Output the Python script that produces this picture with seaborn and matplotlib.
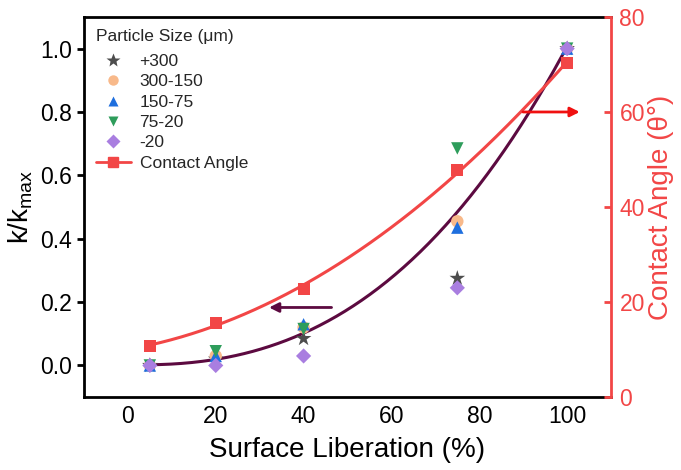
import numpy as np
import pandas as pd
import matplotlib
matplotlib.use("Agg")
import matplotlib.pyplot as plt
import seaborn as sns
from matplotlib.lines import Line2D

sns.set_theme(style="white")
plt.rcParams['font.family'] = ['Liberation Sans', 'DejaVu Sans']
plt.rcParams['mathtext.fontset'] = 'custom'
plt.rcParams['mathtext.rm'] = 'Liberation Sans'
plt.rcParams['mathtext.it'] = 'Liberation Sans'

# ---- data ----
liberation = [5, 20, 40, 75, 100]
size_labels = ["+300", "300-150", "150-75", "75-20", "-20"]
k_p300 = [0.0, 0.02, 0.085, 0.275, 1.0]
k_300_150 = [0.0, 0.03, 0.12, 0.455, 1.0]
k_150_75 = [0.0, 0.03, 0.13, 0.435, 1.0]
k_75_20 = [0.0, 0.045, 0.115, 0.685, 1.0]
k_m20 = [0.0, 0.0, 0.03, 0.245, 1.0]
contact_angle = [10.8, 15.7, 22.8, 47.7, 70.4]
# fitted k curve
fit_x = [5, 20, 40, 60, 75, 90, 100]
fit_k = [0.0, 0.022, 0.109, 0.26, 0.49, 0.78, 1.0]

colors = ["#4d4d4d", "#f8b98a", "#1f6fde", "#2e9d5b", "#a97ee0"]
markers = ["*", "o", "^", "v", "D"]
sizes = [140, 80, 80, 80, 60]
red = "#f24646"
dark = "#5c0a40"

rows = []
for lab, vals in zip(size_labels, [k_p300, k_300_150, k_150_75, k_75_20, k_m20]):
    for x, v in zip(liberation, vals):
        rows.append({"lib": x, "k": v, "size": lab})
df = pd.DataFrame(rows)

fig = plt.figure(figsize=(6.81, 4.70), dpi=100)
ax = fig.add_axes([0.1233, 0.155, 0.774, 0.809])
ax2 = ax.twinx()

# fitted curves
xs = np.linspace(5, 100, 200)
ck = np.polyfit(fit_x, fit_k, 3)
ax.plot(xs, np.polyval(ck, xs), color=dark, lw=2.2, zorder=2)

for lab, col, mk, s in zip(size_labels, colors, markers, sizes):
    sub = df[df["size"] == lab]
    sns.scatterplot(data=sub, x="lib", y="k", ax=ax, color=col, marker=mk,
                    s=s, edgecolor="none", legend=False, zorder=3)

ca_fit = np.polyfit(liberation, contact_angle, 2)
ax2.plot(xs, np.polyval(ca_fit, xs), color=red, lw=2.2, zorder=2)
sns.scatterplot(x=liberation, y=contact_angle, ax=ax2, color=red, marker="s",
                s=75, edgecolor="none", legend=False, zorder=3)

# arrows
ax.annotate("", xy=(31.5, 0.183), xytext=(47, 0.183),
            arrowprops=dict(arrowstyle="-|>", color=dark, lw=2, mutation_scale=14))
ax2.annotate("", xy=(103.5, 60), xytext=(89.3, 60),
             arrowprops=dict(arrowstyle="-|>", color="#f01010", lw=2, mutation_scale=14))

ax.set_xlim(-10, 110)
ax.set_ylim(-0.1, 1.1)
ax2.set_ylim(0, 80)
ax.set_xticks([0, 20, 40, 60, 80, 100])
ax.set_yticks([0.0, 0.2, 0.4, 0.6, 0.8, 1.0])
ax.set_yticklabels(["0.0", "0.2", "0.4", "0.6", "0.8", "1.0"])
ax2.set_yticks([0, 20, 40, 60, 80])

for sp in ["left", "bottom", "top"]:
    ax.spines[sp].set_color("black")
    ax.spines[sp].set_linewidth(2)
    ax2.spines[sp].set_visible(False)
ax.spines["right"].set_visible(False)
ax2.spines["right"].set_color(red)
ax2.spines["right"].set_linewidth(2)

ax.tick_params(axis="x", direction="in", length=5, width=2, labelsize=16.5, colors="black", pad=6)
ax.tick_params(axis="y", direction="out", length=5, width=2, labelsize=16.5, colors="black")
ax2.tick_params(axis="y", direction="in", length=5, width=2, labelsize=16.5, colors=red, pad=6)

ax.set_xlabel("Surface Liberation (%)", fontsize=20, color="black", labelpad=6)
ax.set_ylabel("k/k$_{max}$", fontsize=20, color="black", labelpad=4)
ax2.set_ylabel("Contact Angle (θ°)", fontsize=20, color=red, labelpad=2)

handles = [Line2D([], [], linestyle="none", marker=mk, color=col,
                  markersize=(10 if mk == "*" else 7.5), markeredgecolor="none")
           for col, mk in zip(colors, markers)]
handles.append(Line2D([], [], color=red, lw=2, marker="s", markersize=7.5))
labels = size_labels + ["Contact Angle"]
leg = ax.legend(handles, labels, title="Particle Size (μm)", loc="upper left",
                frameon=False, fontsize=12.5, title_fontsize=12.5,
                labelspacing=0.3, handlelength=2.0, handletextpad=0.5,
                borderaxespad=0.3, bbox_to_anchor=(0.0, 1.0))
leg._legend_box.align = "left"
leg._legend_box.sep = 7
ax.set_zorder(ax2.get_zorder() - 1)
ax.patch.set_visible(False)
ax2.set_zorder(1)

fig.savefig("out.png", dpi=100)
